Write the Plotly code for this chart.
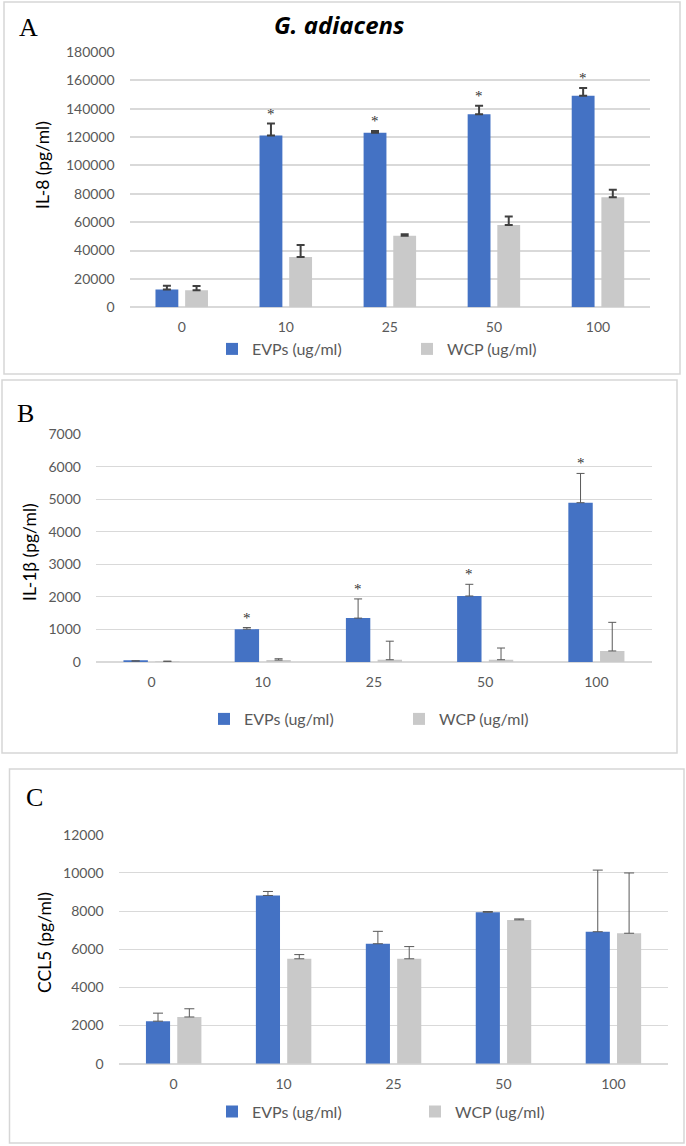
import plotly.graph_objects as go

W, H = 686, 1146

categories = ["0", "10", "25", "50", "100"]
series_names = ["EVPs (ug/ml)", "WCP (ug/ml)"]

# Panel A: IL-8
il8_evp = [12500, 121000, 123000, 136000, 149000]
il8_evp_err = [2700, 8500, 1200, 6000, 5500]
il8_wcp = [12000, 35500, 50500, 58000, 77500]
il8_wcp_err = [3000, 8400, 1000, 6000, 5300]
il8_sig = [False, True, True, True, True]

# Panel B: IL-1beta
il1b_evp = [30, 1010, 1350, 2030, 4900]
il1b_evp_err = [5, 50, 590, 360, 900]
il1b_wcp = [20, 60, 70, 70, 340]
il1b_wcp_err = [5, 40, 570, 360, 880]
il1b_sig = [False, True, True, True, True]

# Panel C: CCL5
ccl5_evp = [2230, 8820, 6290, 7940, 6920]
ccl5_evp_err = [420, 210, 650, 40, 3230]
ccl5_wcp = [2450, 5500, 5500, 7540, 6840]
ccl5_wcp_err = [430, 220, 640, 50, 3160]
ccl5_sig = [False, False, False, False, False]

EVP_COLOR = "#4472C4"
WCP_COLOR = "#C9C9C9"
GRID = "#D9D9D9"
TICK = "#595959"
FONT = "Lato"
BARGAP = 0.43
BARGROUPGAP = 0.23

def px_x(p):
    return p / W

def px_y(p):
    return 1 - p / H

panels = [
    dict(evp=il8_evp, evpe=il8_evp_err, wcp=il8_wcp, wcpe=il8_wcp_err, sig=il8_sig,
         xpx=(129.7, 650.0), ypx=(51.7, 307.3), ymax=180000, dtick=20000,
         ytitle="IL-8 (pg/ml)", ytitle_pos=(42, 165), letter="A", letter_pos=(29, 28),
         box=(4, 2, 680, 374), legend_y=349, legend_x=226, entry=150,
         err_color="#404040", err_th=2, err_w=4, grid_w=1.5),
    dict(evp=il1b_evp, evpe=il1b_evp_err, wcp=il1b_wcp, wcpe=il1b_wcp_err, sig=il1b_sig,
         xpx=(95.9, 652.0), ypx=(434.3, 662.0), ymax=7000, dtick=1000,
         ytitle="IL-1β (pg/ml)", ytitle_pos=(29, 552), letter="B", letter_pos=(25, 413),
         box=(2, 380, 677, 753), legend_y=719, legend_x=218, entry=150,
         err_color="#595959", err_th=1, err_w=4, grid_w=1),
    dict(evp=ccl5_evp, evpe=ccl5_evp_err, wcp=ccl5_wcp, wcpe=ccl5_wcp_err, sig=ccl5_sig,
         xpx=(118.7, 668.4), ypx=(834.7, 1063.7), ymax=12000, dtick=2000,
         ytitle="CCL5 (pg/ml)", ytitle_pos=(44, 943), letter="C", letter_pos=(34, 797),
         box=(9.5, 769, 684, 1143), legend_y=1111.5, legend_x=226, entry=158,
         err_color="#595959", err_th=1, err_w=5, grid_w=1),
]

fig = go.Figure()
annotations = []
shapes = []
layout_upd = {}

for i, p in enumerate(panels):
    n = "" if i == 0 else str(i + 1)
    xa, ya = "x" + n, "y" + n
    leg = "legend" + n
    for name, vals, errs, col in [(series_names[0], p["evp"], p["evpe"], EVP_COLOR),
                                  (series_names[1], p["wcp"], p["wcpe"], WCP_COLOR)]:
        fig.add_trace(go.Bar(
            x=categories, y=vals, name=name, xaxis=xa, yaxis=ya, legend=leg,
            marker=dict(color=col, line=dict(width=0)),
            error_y=dict(type="data", symmetric=False, array=errs,
                         arrayminus=[0] * len(errs), color=p["err_color"],
                         thickness=p["err_th"], width=p["err_w"]),
        ))
    x0, x1 = p["xpx"]
    ytop, ybot = p["ypx"]
    layout_upd["xaxis" + n] = dict(
        domain=[px_x(x0), px_x(x1)], anchor=ya, type="category",
        categoryorder="array", categoryarray=categories, autorange=False,
        range=[-0.5, len(categories) - 0.5],
        showgrid=False, zeroline=False, showline=False, ticks="",
        tickfont=dict(family=FONT, size=14, color=TICK), ticklabelstandoff=10,
        automargin=False,
    )
    layout_upd["yaxis" + n] = dict(
        domain=[px_y(ybot), px_y(ytop)], anchor=xa, range=[0, p["ymax"] * 1.0005],
        dtick=p["dtick"], tick0=0, showgrid=True, gridcolor=GRID, gridwidth=p["grid_w"],
        zeroline=True, zerolinecolor=GRID, zerolinewidth=p["grid_w"] + 0.5,
        showline=False, ticks="", tickformat="d", automargin=False,
        tickfont=dict(family=FONT, size=14, color=TICK), ticklabelstandoff=14,
    )
    layout_upd[leg] = dict(
        orientation="h", x=px_x(p["legend_x"] - 14), y=px_y(p["legend_y"]),
        xanchor="left", yanchor="middle", bgcolor="rgba(0,0,0,0)",
        font=dict(family=FONT, size=16, color=TICK),
        entrywidth=p["entry"], entrywidthmode="pixels", itemwidth=30, tracegroupgap=0,
    )
    # y-axis title
    tx, ty = p["ytitle_pos"]
    annotations.append(dict(
        x=px_x(tx), y=px_y(ty), xref="paper", yref="paper", text=p["ytitle"],
        showarrow=False, textangle=-90, xanchor="center", yanchor="middle",
        font=dict(family=FONT, size=17.5, color="#000000"),
    ))
    # significance markers (category index positions, shifted onto the EVP bar)
    cat_w = (x1 - x0) / len(categories)
    shift = -(1 - BARGAP) / 4 * cat_w
    for k, (v, e, s) in enumerate(zip(p["evp"], p["evpe"], p["sig"])):
        if s:
            annotations.append(dict(
                x=k, y=v + e, xref=xa, yref=ya, text="*", showarrow=False,
                xanchor="center", yanchor="bottom", xshift=shift, yshift=0,
                font=dict(family="Liberation Serif", size=15, color="#333333"),
            ))
    lx, ly = p["letter_pos"]
    annotations.append(dict(
        x=px_x(lx), y=px_y(ly), xref="paper", yref="paper", text=p["letter"],
        showarrow=False, xanchor="center", yanchor="middle",
        font=dict(family="Liberation Serif", size=26, color="#000000"),
    ))
    bx0, by0, bx1, by1 = p["box"]
    shapes.append(dict(type="rect", xref="paper", yref="paper",
                       x0=px_x(bx0), x1=px_x(bx1), y0=px_y(by1), y1=px_y(by0),
                       line=dict(color="#D6D6D6", width=1.5), fillcolor="rgba(0,0,0,0)"))

annotations.append(dict(
    x=px_x(339), y=px_y(24), xref="paper", yref="paper",
    text="<b><i>G. adiacens</i></b>", showarrow=False, xanchor="center", yanchor="middle",
    font=dict(family="Open Sans", size=24, color="#000000"),
))

fig.update_layout(
    width=W, height=H, margin=dict(l=0, r=0, t=0, b=0, autoexpand=False),
    paper_bgcolor="white", plot_bgcolor="white",
    barmode="group", bargap=BARGAP, bargroupgap=BARGROUPGAP,
    annotations=annotations, shapes=shapes,
    **layout_upd,
)

fig.write_html("out.html", config={"displayModeBar": False},
               post_script="document.body.style.margin='0';")
